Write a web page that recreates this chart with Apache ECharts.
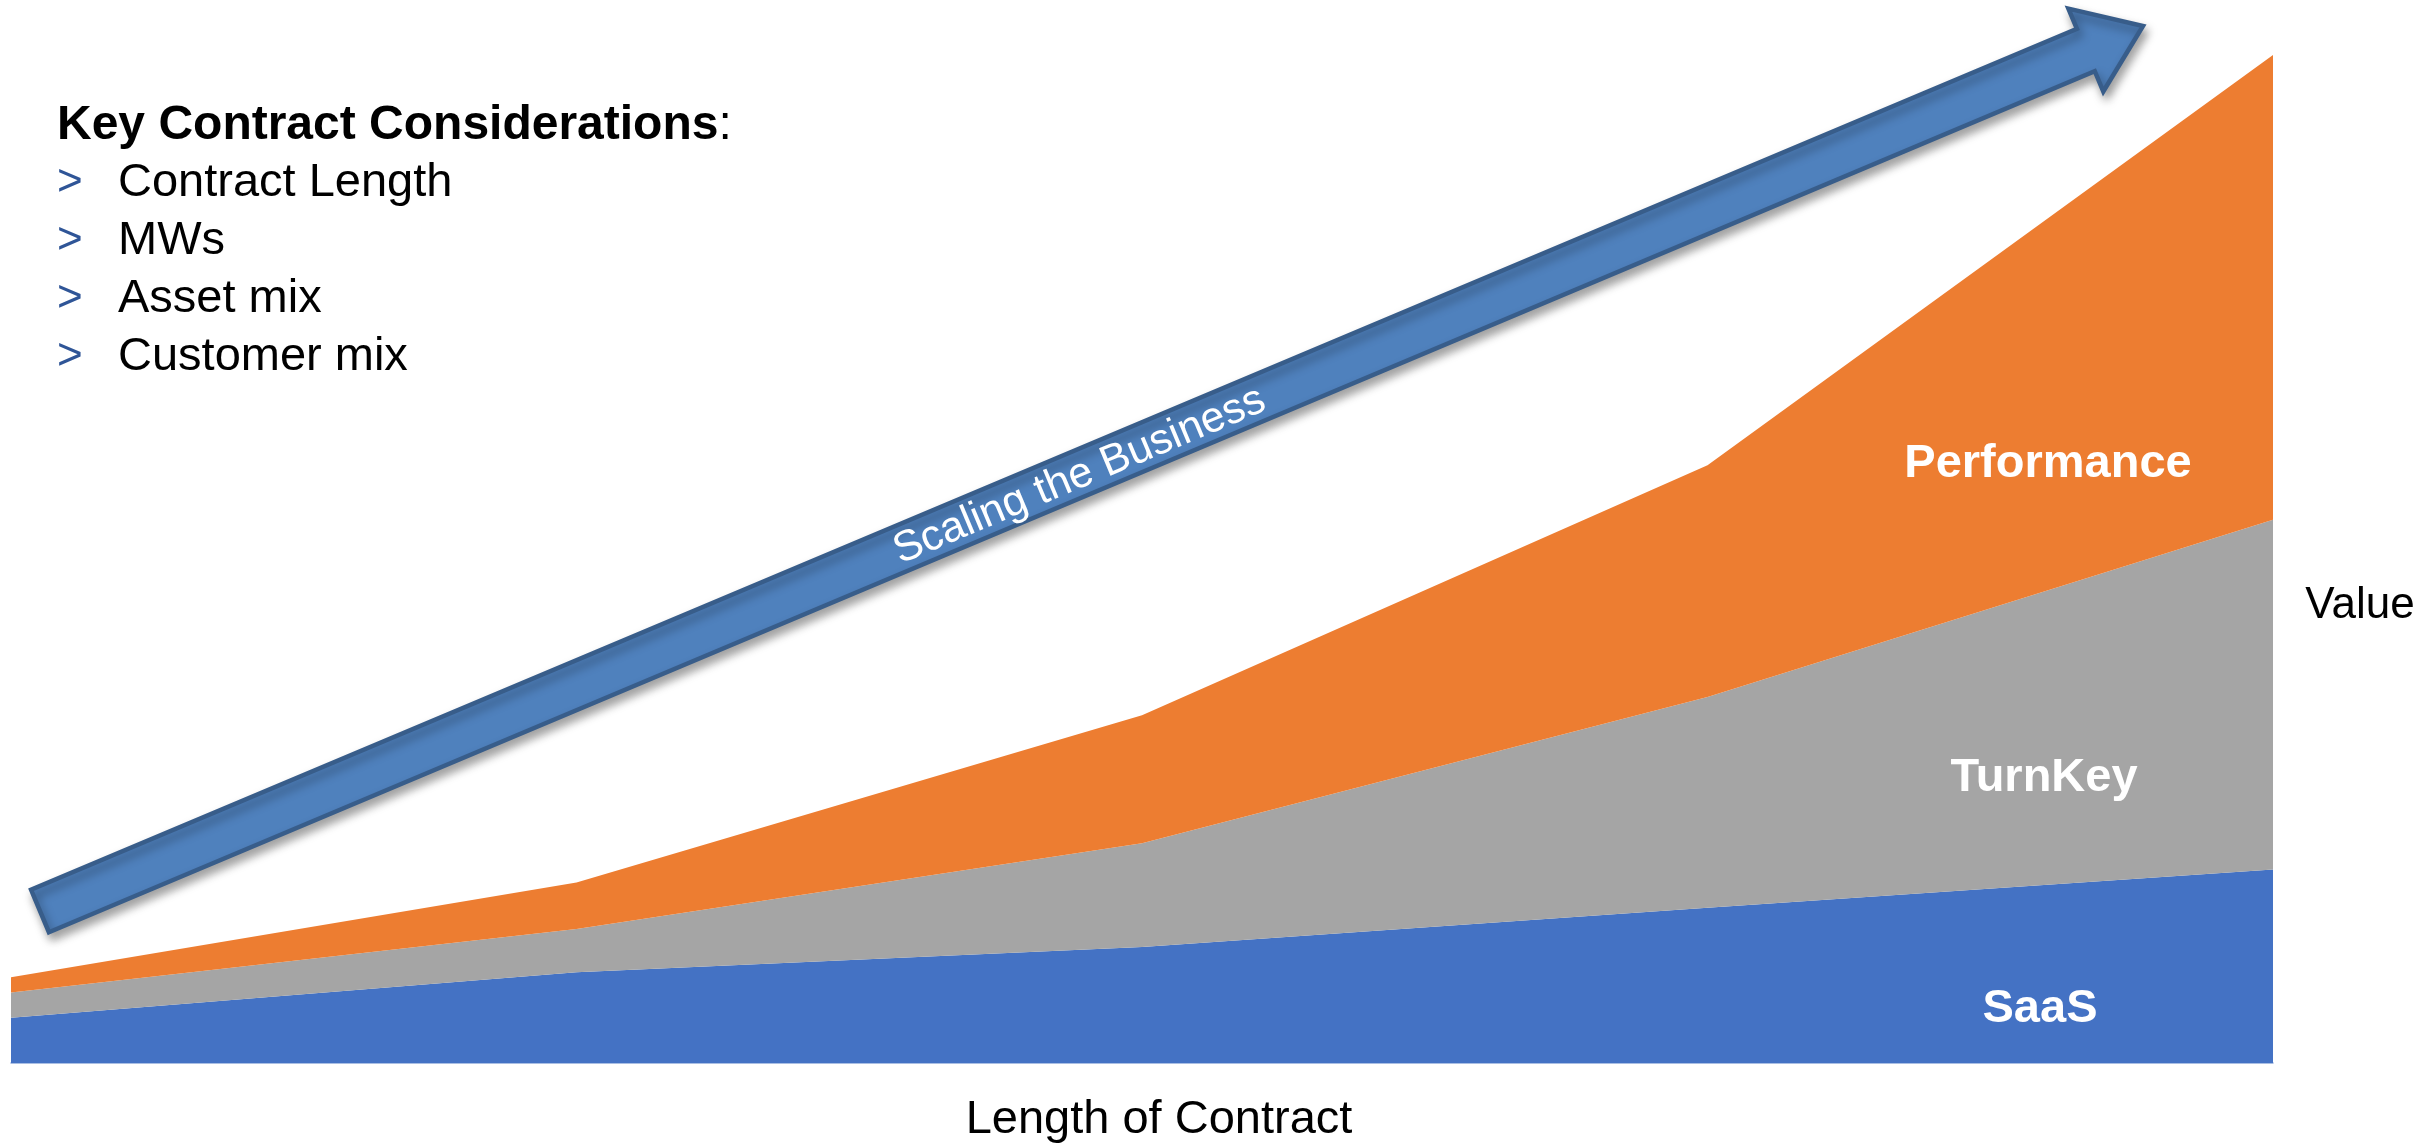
<!DOCTYPE html>
<html><head><meta charset="utf-8">
<script src="https://cdn.jsdelivr.net/npm/echarts/dist/echarts.min.js"></script>
<style>html,body{margin:0;padding:0;background:#fff}#c{width:2430px;height:1146px}</style>
</head><body><div id="c"></div>
<script>
// ---- data ----
const categories = ['1', '2', '3', '4', '5'];
const saas = [4.5, 9.0, 11.5, 15.4, 19.2];
const turnKey = [2.5, 4.3, 10.3, 20.9, 34.7];
const performance = [1.5, 4.6, 12.7, 23.0, 46.1];
const seriesNames = ['SaaS', 'TurnKey', 'Performance'];
const considerationsTitle = 'Key Contract Considerations';
const considerations = ['Contract Length', 'MWs', 'Asset mix', 'Customer mix'];
const arrowText = 'Scaling the Business';
const xName = 'Length of Contract';
const yName = 'Value';

// ---- styling ----
const FONT = '"Liberation Sans", Arial, Helvetica, sans-serif';
const colors = ['#4472C4', '#A5A5A5', '#ED7D31'];

const chart = echarts.init(document.getElementById('c'), null, { renderer: 'canvas' });

// arrow geometry (annotation shape)
const T = [40, 911], P = [2143, 26];
const dx = P[0] - T[0], dy = P[1] - T[1];
const len = Math.sqrt(dx * dx + dy * dy);
const u = [dx / len, dy / len];
const n = [-u[1], u[0]];
const w = 23, h = 45, L = 62;
function pt(a, b) { return [T[0] + u[0] * a + n[0] * b, T[1] + u[1] * a + n[1] * b]; }
const arrowPts = [pt(0, w), pt(len - L, w), pt(len - L, h), pt(len, 0), pt(len - L, -h), pt(len - L, -w), pt(0, -w)];
const angle = Math.atan2(-dy, dx);
const mid = pt(1127, 2);

const graphics = [
  {
    type: 'polygon', shape: { points: arrowPts }, z: 10,
    style: { fill: '#4F81BD', stroke: '#385D8A', lineWidth: 4.5, lineJoin: 'miter',
      shadowBlur: 10, shadowOffsetX: 3, shadowOffsetY: 6, shadowColor: 'rgba(0,0,0,0.35)' }
  },
  {
    type: 'text', x: mid[0], y: mid[1], rotation: angle, z: 11,
    style: { text: arrowText, fill: '#fff', font: '43px ' + FONT, align: 'center', verticalAlign: 'middle' }
  },
  {
    type: 'text', x: 57, y: 126, z: 11,
    style: {
      text: '{b|' + considerationsTitle + '}{r|:}', verticalAlign: 'middle',
      rich: {
        b: { font: 'bold 48px ' + FONT, fill: '#000' },
        r: { font: '48px ' + FONT, fill: '#000' }
      }
    }
  },
  { type: 'text', x: 2048, y: 464, z: 11, style: { text: seriesNames[2], fill: '#fff', font: 'bold 47px ' + FONT, align: 'center', verticalAlign: 'middle' } },
  { type: 'text', x: 2044, y: 778, z: 11, style: { text: seriesNames[1], fill: '#fff', font: 'bold 47px ' + FONT, align: 'center', verticalAlign: 'middle' } },
  { type: 'text', x: 2040, y: 1009, z: 11, style: { text: seriesNames[0], fill: '#fff', font: 'bold 47px ' + FONT, align: 'center', verticalAlign: 'middle' } },
  { type: 'text', x: 2360, y: 606, z: 11, style: { text: yName, fill: '#000', font: '44px ' + FONT, align: 'center', verticalAlign: 'middle' } },
  { type: 'text', x: 1159, y: 1120, z: 11, style: { text: xName, fill: '#000', font: '47px ' + FONT, align: 'center', verticalAlign: 'middle' } }
];
considerations.forEach(function (s, i) {
  const y = 183 + i * 58;
  graphics.push({ type: 'text', x: 57, y: y, z: 11, style: { text: '>', fill: '#2F5597', font: '44px ' + FONT, verticalAlign: 'middle' } });
  graphics.push({ type: 'text', x: 118, y: y, z: 11, style: { text: s, fill: '#000', font: '47px ' + FONT, verticalAlign: 'middle' } });
});

function areaSeries(name, data, color) {
  return {
    name: name, type: 'line', stack: 'total', data: data,
    showSymbol: false, symbol: 'none', silent: true,
    lineStyle: { width: 0, opacity: 0 },
    areaStyle: { color: color, opacity: 1 }
  };
}

chart.setOption({
  animation: false,
  backgroundColor: '#fff',
  grid: { left: 11, right: 157, top: 55, bottom: 83, containLabel: false },
  xAxis: {
    type: 'category', data: categories, boundaryGap: false,
    axisLine: { show: true, lineStyle: { color: '#8FAADC', width: 1.5 } },
    axisTick: { show: false }, axisLabel: { show: false }, splitLine: { show: false }
  },
  yAxis: {
    type: 'value', min: 0, max: 100,
    axisLine: { show: false }, axisTick: { show: false }, axisLabel: { show: false }, splitLine: { show: false }
  },
  series: [
    areaSeries(seriesNames[0], saas, colors[0]),
    areaSeries(seriesNames[1], turnKey, colors[1]),
    areaSeries(seriesNames[2], performance, colors[2])
  ],
  graphic: graphics
});
</script>
</body></html>
